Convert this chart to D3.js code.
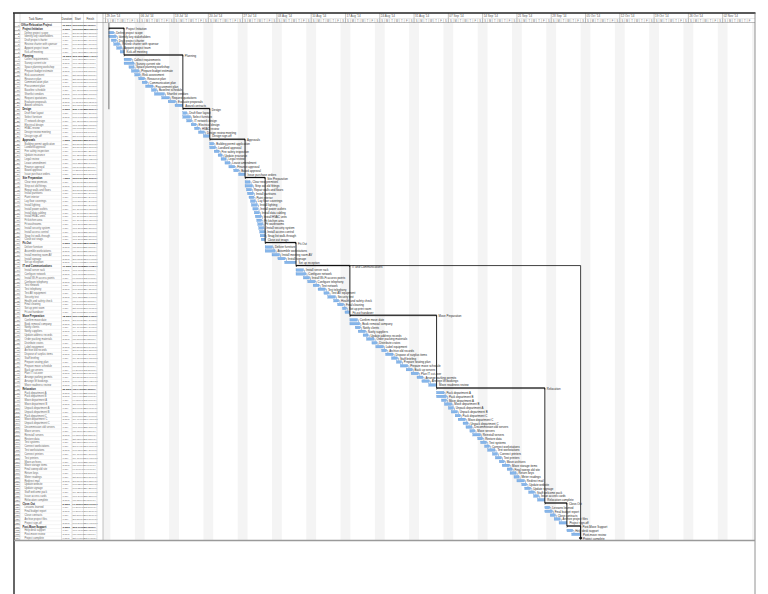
<!DOCTYPE html>
<html>
<head>
<meta charset="utf-8">
<script src="https://cdn.jsdelivr.net/npm/d3@7"></script>
<style>
  html, body { margin: 0; padding: 0; background: #fff; }
  svg { display: block; font-family: "Liberation Sans", Arial, sans-serif; }
</style>
</head>
<body>
<svg id="chart" width="768" height="594"></svg>
<script>
// tareas del plan (una fila por tarea)
const taskNames = [
  "Office Relocation Project",
  "Project Initiation", "Define project scope", "Identify key stakeholders", "Draft project charter",
  "Review charter with sponsor", "Appoint project team", "Kick-off meeting",
  "Planning", "Collect requirements", "Survey current site", "Space planning workshop", "Prepare budget estimate",
  "Risk assessment", "Resource plan", "Communication plan", "Procurement plan", "Baseline schedule",
  "Shortlist vendors", "Request quotations", "Evaluate proposals", "Award contracts",
  "Design", "Draft floor layout", "Select furniture", "IT network design", "Electrical design",
  "HVAC review", "Design review meeting", "Design sign-off",
  "Approvals", "Building permit application", "Landlord approval", "Fire safety inspection", "Update insurance",
  "Legal review", "Lease amendment", "Finance approval", "Board approval", "Issue purchase orders",
  "Site Preparation", "Clear new premises", "Strip out old fittings", "Repair walls and floors", "Install partitions",
  "Paint interior", "Lay floor coverings", "Install lighting", "Install power outlets", "Install data cabling",
  "Install HVAC units", "Fit kitchen area", "Fit washrooms", "Install security system", "Install access control",
  "Snag list walk-through", "Close out snags",
  "Fit-Out", "Deliver furniture", "Assemble workstations", "Install meeting room AV", "Install signage",
  "Set up reception",
  "IT and Communications", "Install server rack", "Configure network", "Install Wi-Fi access points",
  "Configure telephony", "Test network", "Test telephony", "Test AV equipment", "Security test",
  "Health and safety check", "Final cleaning", "Set up print room", "Fit-out handover",
  "Move Preparation", "Confirm move date", "Book removal company", "Notify clients", "Notify suppliers",
  "Update address records", "Order packing materials", "Distribute crates", "Label equipment", "Archive old records",
  "Dispose of surplus items", "Staff briefing", "Prepare seating plan", "Prepare move schedule", "Back up servers",
  "Plan IT cut-over", "Arrange parking permits", "Arrange lift bookings", "Move readiness review",
  "Relocation", "Pack department A", "Pack department B", "Move department A", "Move department B",
  "Unpack department A", "Unpack department B", "Pack department C", "Move department C", "Unpack department C",
  "Decommission old servers", "Move servers", "Reinstall servers", "Restore data", "Test systems",
  "Connect workstations", "Test workstations", "Connect printers", "Test printers", "Move archives",
  "Move storage items", "Final sweep old site", "Return keys", "Meter readings", "Redirect mail",
  "Update website", "Update signage", "Staff welcome pack", "Issue access cards", "Relocation complete",
  "Close-Out", "Lessons learned", "Final budget report", "Close contracts", "Archive project files", "Project sign-off",
  "Post-Move Support", "Help desk support", "Post-move review",
  "Project complete"
];

// inicio (días desde el domingo 29/06/14)
const taskStart = [
  0.7,
  0.7, 0.7, 0.7, 1.2, 1.7, 2.3, 3.0,
  3.8, 3.8, 3.8, 4.8, 5.3, 6.0, 6.8, 7.5, 8.2, 9.4, 10.0, 11.5, 12.8, 14.2,
  15.8, 15.8, 15.8, 16.6, 17.5, 18.2, 19.0, 20.0,
  21.3, 21.3, 21.3, 22.2, 23.0, 23.6, 24.4, 25.2, 26.2, 27.2,
  28.5, 28.5, 28.5, 28.8, 29.0, 29.3, 29.6, 29.8, 30.1, 30.4, 30.6, 30.9, 31.1, 31.3, 31.5, 31.6, 31.8,
  32.6, 32.6, 32.6, 34.0, 35.2, 36.6,
  38.9, 38.9, 38.9, 40.4, 41.3, 42.4, 43.4, 44.6, 45.4, 46.6, 47.4, 48.4, 48.9,
  49.9, 49.9, 49.9, 51.0, 51.6, 52.6, 53.3, 54.4, 55.2, 56.4, 57.2, 58.4, 59.4, 60.2, 61.4, 62.4, 63.6, 64.6, 66.0,
  67.6, 67.6, 67.6, 68.6, 69.2, 70.0, 70.6, 71.4, 72.0, 73.0, 73.6, 74.4, 75.0, 76.0, 76.6, 77.4, 78.0, 79.0, 79.6,
  80.4, 81.0, 82.0, 82.6, 83.4, 84.0, 85.0, 85.6, 86.4, 87.4, 88.2,
  89.7, 89.7, 89.7, 90.8, 91.6, 92.6,
  94.2, 94.2, 95.2,
  97.0
];

// duración en días
const taskDur = [
  96.3,
  3.1, 1.0, 1.5, 1.0, 1.2, 1.0, 0.8,
  12.0, 1.5, 2.0, 1.0, 1.5, 1.0, 1.2, 1.0, 1.5, 1.0, 2.0, 1.5, 1.5, 1.6,
  5.5, 0.8, 1.5, 1.0, 1.0, 1.0, 1.2, 1.3,
  7.2, 0.8, 1.2, 1.0, 0.8, 1.0, 1.0, 1.2, 1.0, 1.3,
  4.1, 1.0, 1.5, 1.0, 1.2, 1.0, 1.0, 1.2, 1.0, 1.0, 1.2, 1.0, 1.0, 1.0, 1.0, 1.0, 0.8,
  6.3, 1.5, 2.0, 1.5, 1.5, 2.3,
  11.0, 1.5, 2.0, 1.2, 1.5, 1.2, 1.5, 1.0, 1.5, 1.0, 1.2, 0.8, 1.0,
  17.7, 1.5, 2.0, 1.0, 1.5, 1.0, 1.5, 1.0, 1.5, 1.0, 1.5, 1.2, 1.0, 1.5, 1.2, 1.5, 1.2, 1.5, 1.6,
  22.1, 1.5, 2.0, 1.0, 1.5, 1.0, 1.2, 1.0, 1.5, 1.0, 1.2, 1.0, 1.5, 1.0, 1.2, 1.0, 1.5, 1.0, 1.2,
  1.0, 1.5, 1.0, 1.2, 1.0, 1.5, 1.0, 1.2, 1.2, 1.0, 1.5,
  4.5, 1.0, 1.5, 1.0, 1.2, 1.6,
  2.8, 1.2, 1.8,
  0
];

const rootRow = 0;
const phaseRows = [1, 8, 22, 30, 40, 57, 63, 76, 95, 125, 131];
const milestoneRows = [134];
// enlace largo de la fase de IT al hito final
const longLinkFrom = 63;

// escala de tiempo
const weekLabels = ["29 Jun '14", "06 Jul '14", "13 Jul '14", "20 Jul '14", "27 Jul '14", "03 Aug '14",
  "10 Aug '14", "17 Aug '14", "24 Aug '14", "31 Aug '14", "07 Sep '14", "14 Sep '14", "21 Sep '14",
  "28 Sep '14", "05 Oct '14", "12 Oct '14", "19 Oct '14", "26 Oct '14", "02 Nov '14", "09 Nov '14"];
const dayLetters = ["S", "M", "T", "W", "T", "F", "S"];
const tableHeaders = ["Task Name", "Duration", "Start", "Finish"];

const baseDate = new Date(2014, 5, 29);

const frame = { left: 14, top: 13, right: 755, bottom: 540, head: 22.5 };
const colX = [14, 20, 61.5, 72, 83.5, 97, 103];

const svg = d3.select("#chart");

const x = d3.scaleLinear().domain([-0.5, 132.6]).range([colX[6], frame.right]);
const row = d3.scaleBand().domain(d3.range(taskNames.length)).range([frame.head + 0.5, frame.bottom]);
const rh = row.bandwidth();

const kindOf = i => i === rootRow ? "R" : phaseRows.includes(i) ? "P" : milestoneRows.includes(i) ? "M" : "T";
const tasks = taskNames.map((name, i) => ({ i, name, kind: kindOf(i), start: taskStart[i], dur: taskDur[i] }));

const fmtDate = d3.timeFormat("%a %d/%m/%y");
const dayToDate = d => d3.timeDay.offset(baseDate, Math.floor(d));

svg.append("defs").append("clipPath").attr("id", "gclip")
  .append("rect").attr("x", colX[6]).attr("y", frame.top).attr("width", frame.right - colX[6]).attr("height", frame.bottom - frame.top);

const g = svg.append("g").attr("clip-path", "url(#gclip)");

// fines de semana sombreados
const weeks = d3.range(weekLabels.length);
g.selectAll("rect.wkend").data(weeks).enter().append("rect")
  .attr("class", "wkend")
  .attr("x", k => x(7 * k - 1))
  .attr("y", frame.head)
  .attr("width", k => x(7 * k + 1) - x(7 * k - 1))
  .attr("height", frame.bottom - frame.head)
  .attr("fill", "#f4f4f4");

// cabecera de la escala
const shownWeeks = weeks.filter(k => x(7 * k) + 14 < frame.right);
g.selectAll("line.major").data(weeks).enter().append("line")
  .attr("x1", k => x(7 * k)).attr("x2", k => x(7 * k))
  .attr("y1", frame.top).attr("y2", frame.head)
  .attr("stroke", "#8c8c8c").attr("stroke-width", 0.5);
g.selectAll("text.week").data(shownWeeks).enter().append("text")
  .attr("x", k => x(7 * k) + 1).attr("y", 17)
  .attr("font-size", 3).attr("fill", "#555")
  .text(k => weekLabels[k]);
const days = d3.range(weekLabels.length * 7).filter(d => x(d + 1) <= frame.right);
g.selectAll("line.minor").data(days).enter().append("line")
  .attr("x1", d => x(d)).attr("x2", d => x(d))
  .attr("y1", 18.8).attr("y2", frame.head)
  .attr("stroke", "#9a9a9a").attr("stroke-width", 0.35);
g.selectAll("text.day").data(days).enter().append("text")
  .attr("x", d => x(d + 0.5)).attr("y", 21.8)
  .attr("text-anchor", "middle")
  .attr("font-size", 2.6).attr("fill", "#666")
  .text(d => dayLetters[d % 7]);
svg.append("line").attr("x1", colX[6]).attr("x2", frame.right).attr("y1", 18.5).attr("y2", 18.5)
  .attr("stroke", "#bbb").attr("stroke-width", 0.3);

// tabla
const tbl = svg.append("g");
tbl.selectAll("line.rowline").data(tasks).enter().append("line")
  .attr("x1", colX[0]).attr("x2", colX[5])
  .attr("y1", d => row(d.i) + rh).attr("y2", d => row(d.i) + rh)
  .attr("stroke", "#dcdcdc").attr("stroke-width", 0.3);
tbl.selectAll("line.rownum").data(tasks).enter().append("line")
  .attr("x1", colX[0]).attr("x2", colX[1])
  .attr("y1", d => row(d.i) + rh).attr("y2", d => row(d.i) + rh)
  .attr("stroke", "#777").attr("stroke-width", 0.5);
tbl.selectAll("line.col").data(colX.slice(1, 6)).enter().append("line")
  .attr("x1", c => c).attr("x2", c => c)
  .attr("y1", frame.top).attr("y2", frame.bottom)
  .attr("stroke", "#c4c4c4").attr("stroke-width", 0.5);
tbl.selectAll("text.hdr").data(tableHeaders).enter().append("text")
  .attr("x", (t, k) => colX[k + 2] - (colX[k + 2] - colX[k + 1]) / 2 + (k === 0 ? -12 : 0))
  .attr("y", 20).attr("font-size", 2.8).attr("fill", "#333")
  .attr("text-anchor", (t, k) => k === 0 ? "start" : "middle")
  .text(t => t);

tbl.selectAll("text.num").data(tasks).enter().append("text")
  .attr("x", colX[1] - 0.6).attr("y", d => row(d.i) + rh - 0.9)
  .attr("text-anchor", "end").attr("font-size", 2.4).attr("fill", "#555")
  .text(d => d.i);

const bold = d => d.kind === "R" || d.kind === "P";
const indent = d => d.kind === "R" ? 1 : d.kind === "P" ? 2.5 : 4.5;
const txtFill = d => bold(d) ? "#222" : "#666";
tbl.selectAll("text.name").data(tasks).enter().append("text")
  .attr("x", d => colX[1] + indent(d)).attr("y", d => row(d.i) + rh - 0.9)
  .attr("font-size", 2.6).attr("fill", txtFill)
  .attr("font-weight", d => bold(d) ? "bold" : "normal")
  .text(d => d.name);
tbl.selectAll("text.dur").data(tasks).enter().append("text")
  .attr("x", colX[2] + 1).attr("y", d => row(d.i) + rh - 0.9)
  .attr("font-size", 2.4).attr("fill", txtFill)
  .attr("font-weight", d => bold(d) ? "bold" : "normal")
  .text(d => { const n = Math.round(d.dur); return n === 1 ? "1 day" : n + " days"; });
tbl.selectAll("text.start").data(tasks).enter().append("text")
  .attr("x", colX[3] + 0.6).attr("y", d => row(d.i) + rh - 0.9)
  .attr("font-size", 2.2).attr("fill", txtFill)
  .attr("font-weight", d => bold(d) ? "bold" : "normal")
  .text(d => fmtDate(dayToDate(d.start)));
tbl.selectAll("text.finish").data(tasks).enter().append("text")
  .attr("x", colX[4] + 0.6).attr("y", d => row(d.i) + rh - 0.9)
  .attr("font-size", 2.2).attr("fill", txtFill)
  .attr("font-weight", d => bold(d) ? "bold" : "normal")
  .text(d => fmtDate(dayToDate(d.start + Math.max(d.dur - 0.05, 0))));

// enlaces entre tareas
const linkColor = "#4a7fc1";
const links = [];
tasks.forEach((d, k) => {
  const n = tasks[k + 1];
  if (n && d.kind === "T" && n.kind === "T") links.push([d, n]);
});
g.selectAll("path.link").data(links).enter().append("path")
  .attr("d", ([a, b]) => {
    const xe = x(a.start + a.dur), ym = row(a.i) + rh * 0.5;
    const xs = Math.max(xe + 1.2, x(b.start) + 1.2);
    return `M${xe},${ym}H${xs}V${row(b.i) + 0.6}`;
  })
  .attr("fill", "none").attr("stroke", linkColor).attr("stroke-width", 0.45);

// barras de tareas
g.selectAll("rect.bar").data(tasks.filter(d => d.kind === "T")).enter().append("rect")
  .attr("x", d => x(d.start))
  .attr("y", d => row(d.i) + 0.7)
  .attr("width", d => x(d.start + d.dur) - x(d.start))
  .attr("height", rh - 1.3)
  .attr("fill", "#86b6ea").attr("stroke", "#5f95d6").attr("stroke-width", 0.3);

// enlaces entre fases (negro)
const phases = tasks.filter(d => d.kind === "P");
const finalMs = tasks[milestoneRows[0]];
const phaseLinks = phases.slice(0, -1).map((p, k) => [p, phases[k + 1]]);
phaseLinks.push([phases[phases.length - 1], finalMs]);
g.selectAll("path.plink").data(phaseLinks).enter().append("path")
  .attr("d", ([a, b]) => `M${x(a.start + a.dur)},${row(a.i) + 1.3}V${row(b.i) + 1.3}`)
  .attr("fill", "none").attr("stroke", "#111").attr("stroke-width", 0.9);
const lf = tasks[longLinkFrom];
g.append("path")
  .attr("d", `M${x(lf.start + lf.dur)},${row(lf.i) + 1.3}H${x(finalMs.start)}V${row(finalMs.i) + 0.5}`)
  .attr("fill", "none").attr("stroke", "#111").attr("stroke-width", 0.8);

// barras de resumen
g.selectAll("path.sum").data(phases).enter().append("path")
  .attr("d", d => {
    const x0 = x(d.start), x1 = x(d.start + d.dur), y = row(d.i) + 1.3;
    return `M${x0},${y - 0.5}H${x1}V${y + 1.4}L${x1 - 0.9},${y + 0.5}H${x0 + 0.9}L${x0},${y + 1.4}Z`;
  })
  .attr("fill", "#111").attr("stroke", "#111").attr("stroke-width", 0.3);

// hito final
g.selectAll("path.ms").data(tasks.filter(d => d.kind === "M")).enter().append("path")
  .attr("d", d => {
    const cx = x(d.start), cy = row(d.i) + rh / 2;
    return `M${cx},${cy - 1.8}L${cx + 1.8},${cy}L${cx},${cy + 1.8}L${cx - 1.8},${cy}Z`;
  })
  .attr("fill", "#111");

// línea de inicio del proyecto
g.append("line")
  .attr("x1", x(tasks[rootRow].start)).attr("x2", x(tasks[rootRow].start))
  .attr("y1", row(rootRow)).attr("y2", row(phaseRows[2]) + 2)
  .attr("stroke", "#222").attr("stroke-width", 0.6);

// etiquetas de las barras
g.selectAll("text.lbl").data(tasks.filter(d => d.kind !== "R")).enter().append("text")
  .attr("x", d => x(d.start + d.dur) + (d.kind === "P" ? 2 : 2.5))
  .attr("y", d => row(d.i) + rh - 0.5)
  .attr("font-size", 2.9).attr("fill", "#2a2a2a")
  .text(d => d.name);

// marco
svg.append("line").attr("x1", colX[6]).attr("x2", colX[6]).attr("y1", frame.top).attr("y2", frame.bottom)
  .attr("stroke", "#9a9a9a").attr("stroke-width", 0.6);
svg.append("line").attr("x1", colX[0]).attr("x2", frame.right).attr("y1", frame.head).attr("y2", frame.head)
  .attr("stroke", "#7a7a7a").attr("stroke-width", 0.5);
svg.append("line").attr("x1", frame.left - 1).attr("x2", frame.right + 0.5).attr("y1", frame.top).attr("y2", frame.top)
  .attr("stroke", "#222").attr("stroke-width", 1.3);
svg.append("line").attr("x1", frame.left).attr("x2", frame.left).attr("y1", frame.top).attr("y2", 594)
  .attr("stroke", "#333").attr("stroke-width", 1.5);
svg.append("line").attr("x1", frame.right).attr("x2", frame.right).attr("y1", frame.top).attr("y2", 594)
  .attr("stroke", "#777").attr("stroke-width", 0.8);
svg.append("line").attr("x1", frame.left).attr("x2", frame.right).attr("y1", frame.bottom + 0.5).attr("y2", frame.bottom + 0.5)
  .attr("stroke", "#9a9a9a").attr("stroke-width", 1.4);
</script>
</body>
</html>
